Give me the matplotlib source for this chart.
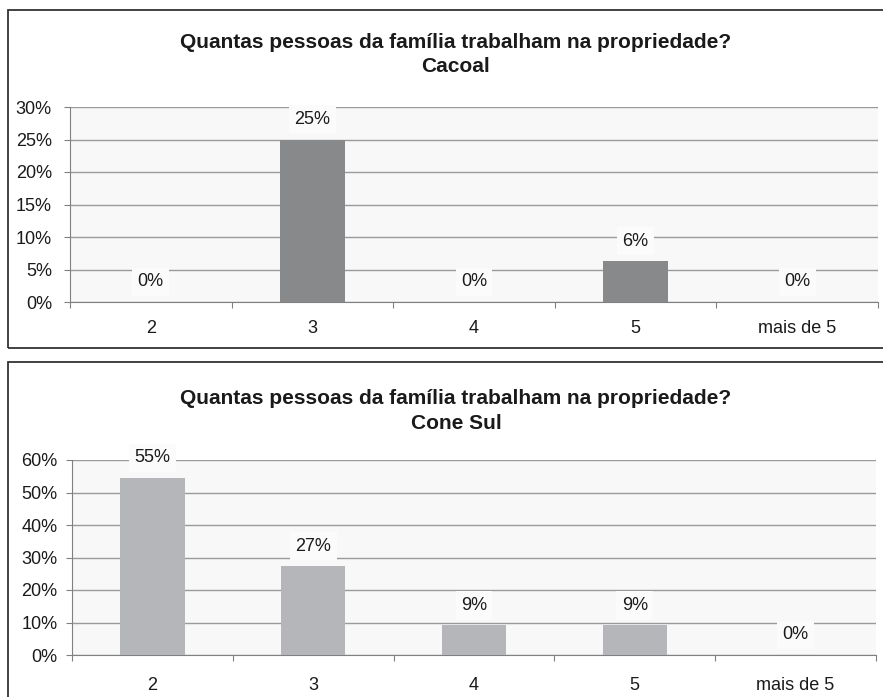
import matplotlib.pyplot as plt
from matplotlib.patches import Rectangle
from matplotlib.ticker import PercentFormatter

plt.rcParams['font.family'] = ['Liberation Sans', 'DejaVu Sans']

# data
categories = ['2', '3', '4', '5', 'mais de 5']
cacoal = [0, 25, 0, 6.25, 0]
cone_sul = [54.5, 27.3, 9.1, 9.1, 0]
labels_cacoal = ['0%', '25%', '0%', '6%', '0%']
labels_cone_sul = ['55%', '27%', '9%', '9%', '0%']
question = 'Quantas pessoas da família trabalham na propriedade?'

W, H = 883, 697
fig = plt.figure(figsize=(W / 100, H / 100), dpi=100)
fig.patch.set_facecolor('white')

def px_rect(x0, y0, x1, y1):
    return [x0 / W, 1 - y1 / H, (x1 - x0) / W, (y1 - y0) / H]

# panel frames
for (x0, y0, x1, y1) in [(8, 10, 900, 348), (8, 362, 900, 720)]:
    fig.patches.append(Rectangle((x0 / W, 1 - y1 / H), (x1 - x0) / W, (y1 - y0) / H,
                                 transform=fig.transFigure, fill=False,
                                 edgecolor='#333333', linewidth=1.3, zorder=0))

panels = [
    (cacoal, labels_cacoal, 'Cacoal', '#88898b', 30, 5, px_rect(70, 107, 878, 302), (42, 67), 13, 9),
    (cone_sul, labels_cone_sul, 'Cone Sul', '#b5b6b9', 60, 10, px_rect(72, 460, 876, 655), (398, 423), 16, 6.5),
]

for vals, labs, region, color, ymax, step, rect, ty, xpad, ypad in panels:
    ax = fig.add_axes(rect)
    ax.set_facecolor('#f8f8f8')
    x = list(range(len(categories)))
    ax.bar(x, vals, width=0.4, color=color, zorder=3)
    ax.set_xlim(-0.5, len(categories) - 0.5)
    ax.set_ylim(0, ymax)
    ax.set_yticks(range(0, ymax + 1, step))
    ax.yaxis.set_major_formatter(PercentFormatter(decimals=0))
    ax.grid(axis='y', color='#9a9a9a', linewidth=1, zorder=1)
    ax.set_xticks([i - 0.5 for i in range(len(categories) + 1)])
    ax.set_xticklabels([])
    ax.set_xticks(x, minor=True)
    ax.set_xticklabels(categories, minor=True)
    ax.tick_params(axis='x', which='major', length=4, color='#808080')
    ax.tick_params(axis='x', which='minor', length=0, pad=xpad, labelsize=13, labelcolor='#1a1a1a')
    ax.tick_params(axis='y', length=4, color='#808080', pad=ypad, labelsize=13, labelcolor='#1a1a1a')
    for s in ['top', 'right']:
        ax.spines[s].set_visible(False)
    for s in ['left', 'bottom']:
        ax.spines[s].set_color('#808080')
    for xi, v, lab in zip(x, vals, labs):
        ax.annotate(lab, (xi, v), xytext=(0, 14.5), textcoords='offset points',
                    ha='center', va='center', fontsize=13, color='#1a1a1a', zorder=5,
                    bbox=dict(boxstyle='square,pad=0.3', facecolor='#fbfbfb', edgecolor='none'))
    fig.text(456 / W, 1 - ty[0] / H, question, ha='center', va='center',
             fontsize=15, fontweight='bold', color='#1a1a1a')
    fig.text(456 / W, 1 - ty[1] / H, region, ha='center', va='center',
             fontsize=15, fontweight='bold', color='#1a1a1a')

fig.savefig('out.png', dpi=100)
